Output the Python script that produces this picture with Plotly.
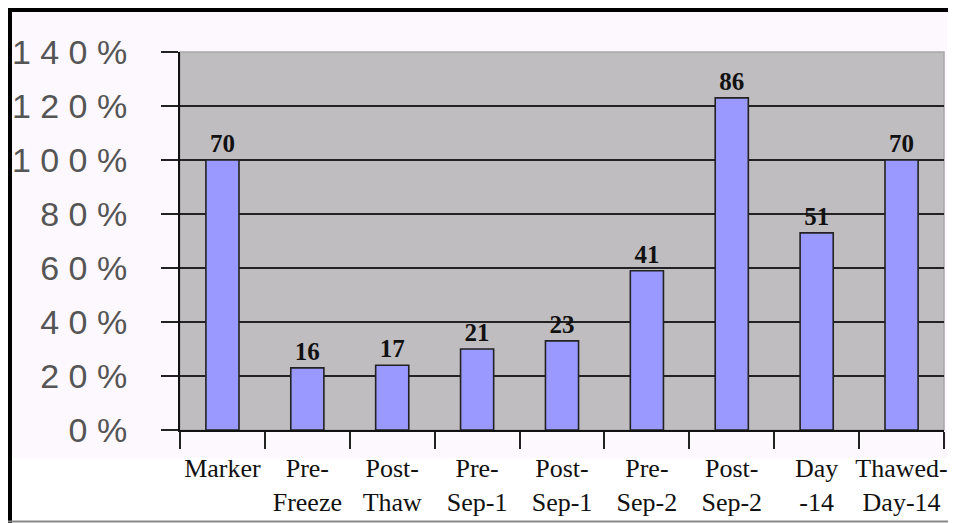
import plotly.graph_objects as go

categories = ["Marker", "Pre-<br>Freeze", "Post-<br>Thaw", "Pre-<br>Sep-1", "Post-<br>Sep-1",
              "Pre-<br>Sep-2", "Post-<br>Sep-2", "Day<br>-14", "Thawed-<br>Day-14"]
percent_values = [100, 23, 24, 30, 33, 59, 123, 73, 100]
count_labels = ["70", "16", "17", "21", "23", "41", "86", "51", "70"]
y_tick_vals = [0, 20, 40, 60, 80, 100, 120, 140]
y_tick_text = ["0 %", "2 0 %", "4 0 %", "6 0 %", "8 0 %", "1 0 0 %", "1 2 0 %", "1 4 0 %"]
grid_vals = [20, 40, 60, 80, 100, 120]

# page body has an 8px margin; the figure is sized to fit the 956x523 window
OFF = 8
W, H = 956 - OFF, 523 - OFF
L, R, T, B = 180 - OFF, 12, 52 - OFF, 93
pw, ph = W - L - R, H - T - B

def px_x(p):
    return (p - OFF - L) / pw

def px_y(p):
    return (H - B - (p - OFF)) / ph

fig = go.Figure()
fig.add_trace(go.Bar(
    x=categories, y=percent_values,
    text=count_labels, textposition="outside", cliponaxis=False,
    textfont=dict(family="Liberation Serif, Times New Roman, serif", size=25, color="#111"),
    marker=dict(color="#9999FF", line=dict(color="#222", width=1.6)),
    texttemplate="<b>%{text}</b>",
    showlegend=False,
))
# invisible trace for the grid-only overlay axis
fig.add_trace(go.Scatter(x=[categories[0]], y=[0], yaxis="y2", mode="markers",
                         marker=dict(opacity=0), showlegend=False, hoverinfo="skip"))

shapes = [
    # pinkish panel background
    dict(type="rect", xref="paper", yref="paper", x0=px_x(12), x1=px_x(947), y0=px_y(458), y1=px_y(12),
         fillcolor="#FDF8FD", line=dict(width=0), layer="below"),
    # gray plot area
    dict(type="rect", xref="paper", yref="paper", x0=0, x1=1, y0=0, y1=1,
         fillcolor="#C0BDC0", line=dict(color="#A8A6A8", width=1.5), layer="below"),
    # black frame, left and top
    dict(type="rect", xref="paper", yref="paper", x0=px_x(6), x1=px_x(12), y0=px_y(530), y1=px_y(5),
         fillcolor="#000", line=dict(width=0), layer="above"),
    dict(type="rect", xref="paper", yref="paper", x0=px_x(6), x1=px_x(960), y0=px_y(12), y1=px_y(5),
         fillcolor="#000", line=dict(width=0), layer="above"),
    # bottom thin gray line
    dict(type="line", xref="paper", yref="paper", x0=px_x(6), x1=px_x(960), y0=px_y(521.5), y1=px_y(521.5),
         line=dict(color="#888", width=2), layer="above"),
]

fig.update_layout(
    width=W, height=H,
    margin=dict(l=L, r=R, t=T, b=B, pad=0, autoexpand=False),
    paper_bgcolor="white",
    plot_bgcolor="rgba(0,0,0,0)",
    bargap=0.61,
    shapes=shapes,
    xaxis=dict(
        type="category", tickson="boundaries", ticks="outside", ticklen=17, tickwidth=1.5, tickcolor="#222",
        showline=True, linecolor="#111", linewidth=2, showgrid=False, automargin=False,
        tickfont=dict(family="Liberation Serif, Times New Roman, serif", size=26, color="#111"),
        ticklabelstandoff=14, tickangle=0,
    ),
    yaxis=dict(
        range=[0, 140], tickvals=y_tick_vals, ticktext=y_tick_text, automargin=False,
        ticks="outside", ticklen=17, tickwidth=1.5, tickcolor="#222",
        showline=True, linecolor="#111", linewidth=2, showgrid=False, zeroline=False,
        tickfont=dict(family="Liberation Sans, Arial, sans-serif", size=34, color="#555"),
        ticklabelstandoff=27,
    ),
    yaxis2=dict(
        range=[0, 140], overlaying="y", side="left", tickvals=grid_vals, showticklabels=False,
        automargin=False,
        showgrid=True, gridcolor="#222", gridwidth=1.6, zeroline=False, showline=False, ticks="",
    ),
)

fig.write_html("out.html")
